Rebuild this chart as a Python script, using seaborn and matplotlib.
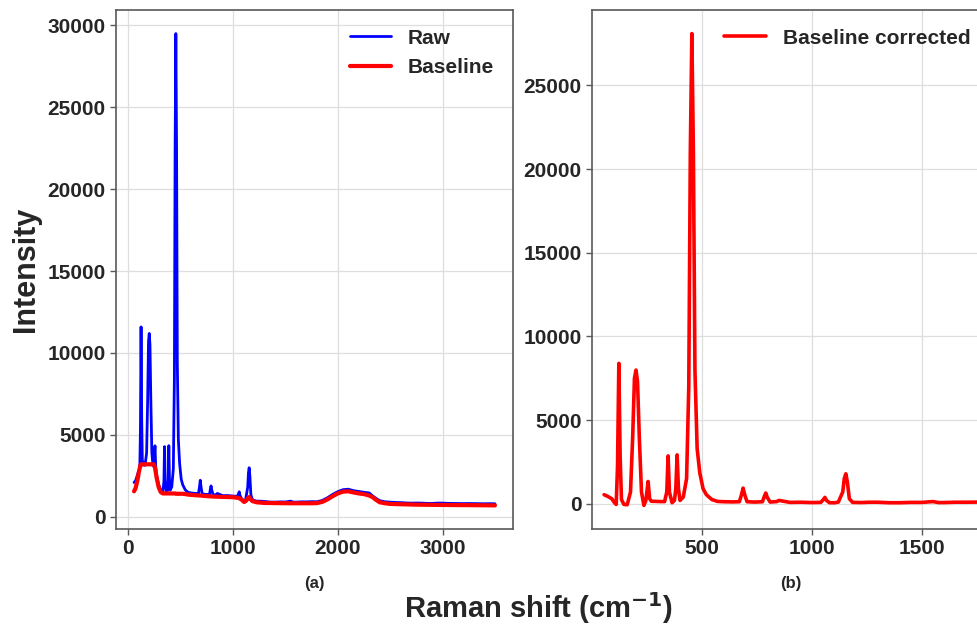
import numpy as np
import pandas as pd
import matplotlib
matplotlib.use("Agg")
import matplotlib.pyplot as plt
import seaborn as sns

# Raman shift (cm^-1) sample positions
shift = [55, 70, 90, 100, 110, 116, 122, 128, 134, 145, 160, 175, 185, 193, 200, 207, 215, 225, 236, 245,
         255, 262, 270, 290, 310, 330, 340, 346, 352, 364, 375, 381, 387, 393, 400, 415, 430, 440, 447, 454,
         461, 468, 478, 490, 505, 520, 545, 570, 600, 640, 670, 680, 687, 694, 705, 740, 775, 783, 790, 797,
         810, 840, 850, 900, 950, 1000, 1040, 1052, 1059, 1066, 1080, 1105, 1120, 1140, 1147, 1154, 1161, 1170, 1185, 1225,
         1260, 1300, 1350, 1400, 1450, 1500, 1550, 1575, 1600, 1650, 1700, 1760, 1800, 1850, 1900, 1950, 2000, 2050, 2100, 2150,
         2200, 2250, 2300, 2330, 2360, 2400, 2450, 2500, 2550, 2600, 2650, 2700, 2750, 2800, 2850, 2900, 2950, 3000, 3050, 3100,
         3150, 3200, 3250, 3300, 3350, 3400, 3450, 3500]

# estimated baseline (left panel, red)
baseline = [1550, 1750, 2300, 2700, 3000, 3150, 3200, 3200, 3200, 3200, 3200, 3200, 3200, 3200, 3200, 3200, 3200, 3200, 3200, 3200,
            3000, 2700, 2400, 1800, 1500, 1420, 1420, 1420, 1420, 1420, 1420, 1420, 1420, 1420, 1420, 1420, 1420, 1420, 1420, 1400,
            1400, 1400, 1400, 1400, 1400, 1400, 1380, 1350, 1330, 1310, 1300, 1290, 1290, 1290, 1280, 1260, 1240, 1240, 1240, 1240,
            1230, 1220, 1220, 1210, 1200, 1190, 1160, 1150, 1140, 1100, 1050, 900, 950, 1100, 1180, 1200, 1150, 1050, 950, 880,
            860, 840, 835, 830, 825, 820, 820, 820, 820, 818, 815, 820, 830, 900, 1050, 1250, 1420, 1530, 1550, 1480,
            1420, 1380, 1290, 1200, 1050, 880, 820, 780, 770, 760, 750, 740, 735, 730, 725, 720, 720, 720, 715, 710,
            710, 710, 705, 700, 700, 700, 695, 690]

# baseline-corrected intensity (right panel)
corrected = [540, 450, 300, 100, -40, 2200, 8390, 2800, 250, -40, -60, 700, 4000, 7500, 7990, 7300, 4000, 700, -100, 200,
             1330, 300, 150, 140, 130, 130, 700, 2860, 700, 60, 200, 900, 2920, 900, 200, 400, 1500, 7000, 21000, 28100,
             21000, 8000, 3300, 1850, 900, 540, 250, 140, 120, 110, 120, 550, 935, 550, 120, 100, 120, 420, 640, 380,
             100, 130, 200, 80, 90, 70, 80, 250, 380, 200, 60, 60, 100, 700, 1500, 1790, 1300, 300, 80, 70,
             90, 90, 60, 60, 80, 80, 130, 70, 70, 90, 90, 100, 80, 90, 100, 110, 110, 120, 130, 110,
             120, 110, 160, 80, 90, 100, 90, 110, 100, 100, 90, 90, 100, 100, 90, 90, 110, 110, 100, 100,
             90, 90, 100, 100, 90, 90, 100, 100]

raw = [b + c for b, c in zip(baseline, corrected)]

df = pd.DataFrame({"shift": shift, "raw": raw, "baseline": baseline, "corrected": corrected})

sns.set_theme(style="whitegrid")
plt.rcParams["font.family"] = ["Liberation Sans", "DejaVu Sans"]
plt.rcParams["font.weight"] = "bold"
plt.rcParams["axes.edgecolor"] = "0.35"
plt.rcParams["grid.color"] = "0.87"
plt.rcParams["axes.linewidth"] = 1.2

W, H = 977, 624
fig = plt.figure(figsize=(W / 100, H / 100), dpi=100)
ax1 = fig.add_axes([116 / W, (H - 529) / H, 397 / W, 519 / H])
ax2 = fig.add_axes([592 / W, (H - 529) / H, 397 / W, 519 / H])

sns.lineplot(data=df, x="shift", y="raw", ax=ax1, color="blue", lw=2.0, label="Raw",
             sort=False, estimator=None)
sns.lineplot(data=df, x="shift", y="baseline", ax=ax1, color="red", lw=3.0, label="Baseline",
             sort=False, estimator=None)
sns.lineplot(data=df, x="shift", y="corrected", ax=ax2, color="red", lw=2.6, label="Baseline corrected",
             sort=False, estimator=None)

ax1.set_xticks([0, 1000, 2000, 3000])
ax1.set_yticks([0, 5000, 10000, 15000, 20000, 25000, 30000])
ax2.set_xlim(0, 1805)
ax2.set_xticks([500, 1000, 1500])
ax2.set_yticks([0, 5000, 10000, 15000, 20000, 25000])

for ax in (ax1, ax2):
    ax.tick_params(axis="both", which="major", labelsize=15, length=4, width=1, color="0.35",
                   bottom=True, left=True, labelcolor="#262626")
    for lab in ax.get_xticklabels() + ax.get_yticklabels():
        lab.set_fontweight("bold")
    ax.grid(True, lw=0.9)
    leg = ax.legend(loc="upper right", frameon=False, fontsize=15)
    for t in leg.get_texts():
        t.set_fontweight("bold")
        t.set_color("#262626")

ax1.set_ylabel("Intensity", fontsize=22, fontweight="bold", color="#262626")
ax1.yaxis.set_label_coords(-0.19, 0.5)
ax2.set_ylabel("")
ax1.set_xlabel("(a)", fontsize=12, fontweight="bold", color="#262626")
ax2.set_xlabel("(b)", fontsize=12, fontweight="bold", color="#262626")
ax1.xaxis.set_label_coords(0.5, -0.09)
ax2.xaxis.set_label_coords(0.5, -0.09)

fig.text(539 / W, 1 - 608 / H, "Raman shift (cm$^{\\mathbf{-1}}$)", ha="center", va="center",
         fontsize=21, fontweight="bold", color="#262626")

fig.savefig("out.png", dpi=100)
